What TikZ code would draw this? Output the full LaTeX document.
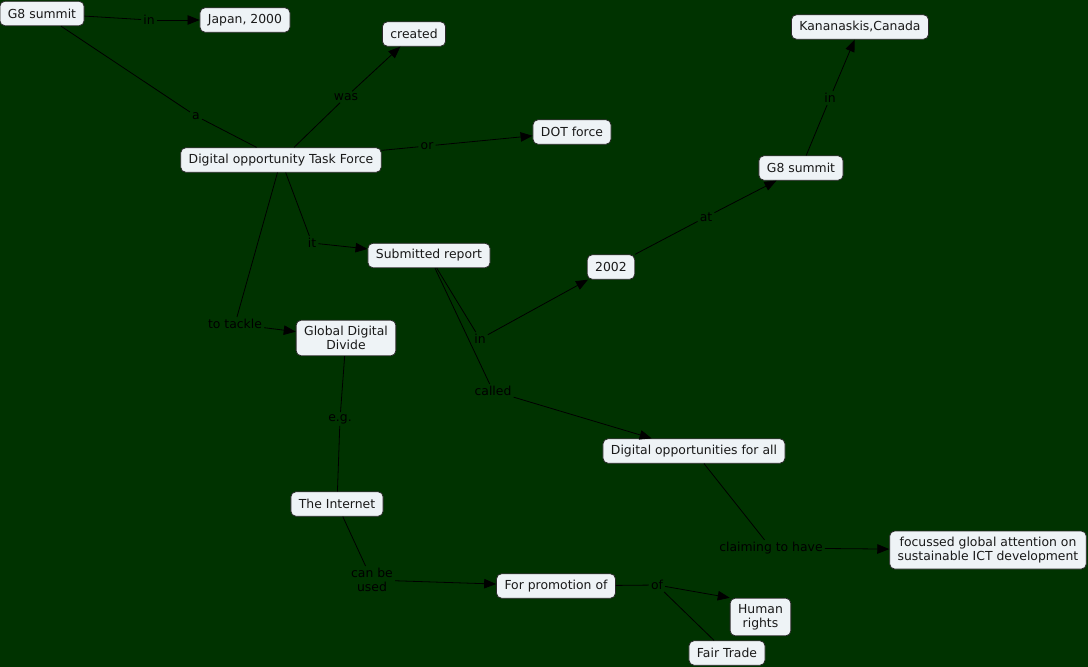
\documentclass[tikz,border=0pt]{standalone}
\usepackage{fontspec}
\setmainfont{DejaVu Sans}
\usetikzlibrary{arrows.meta}
\definecolor{bg}{RGB}{0,51,0}
\definecolor{boxfill}{RGB}{238,243,246}
\definecolor{boxline}{RGB}{40,40,40}
\begin{document}
\begin{tikzpicture}[x=1pt,y=-1pt,
  concept/.style={draw=boxline, line width=0.8pt, fill=boxfill, rounded corners=5pt,
    inner xsep=8pt, inner ysep=6pt, minimum height=24.5pt, align=center,
    font=\fontsize{12.4pt}{14pt}\selectfont, text=black!90},
  lbl/.style={inner sep=2pt, align=center, font=\fontsize{12.4pt}{14pt}\selectfont, text=black},
  conn/.style={draw=black, line width=0.8pt},
  arr/.style={conn, -{Triangle[length=12pt,width=9.5pt]}}]
\fill[bg] (0,0) rectangle (1088,667);
\useasboundingbox (0,0) rectangle (1088,667);
% concepts
\node[concept] (g8a) at (42,13.5) {G8 summit};
\node[concept] (japan) at (245,20) {Japan, 2000};
\node[concept] (created) at (414,34) {created};
\node[concept] (dotf) at (281,160) {Digital opportunity Task Force};
\node[concept] (dot) at (572,132) {DOT force};
\node[concept] (kan) at (860,27) {Kananaskis,Canada};
\node[concept] (g8b) at (801,168) {G8 summit};
\node[concept] (sr) at (429,255.5) {Submitted report};
\node[concept] (y2002) at (611,267) {2002};
\node[concept] (gdd) at (346,338) {Global Digital\\Divide};
\node[concept] (doa) at (694,451) {Digital opportunities for all};
\node[concept] (inet) at (337,504) {The Internet};
\node[concept] (foc) at (988,550) {focussed global attention on\\sustainable ICT development};
\node[concept] (prom) at (556,586) {For promotion of};
\node[concept] (hr) at (760.5,617) {Human\\rights};
\node[concept] (ft) at (727,653) {Fair Trade};
% labels
\node[lbl] (l1) at (149,20) {in};
\node[lbl] (l2) at (196,116) {a};
\node[lbl] (l3) at (346,97) {was};
\node[lbl] (l4) at (427,146) {or};
\node[lbl] (l5) at (830,98) {in};
\node[lbl] (l6) at (706,217) {at};
\node[lbl] (l7) at (312,243) {it};
\node[lbl] (l8) at (235,324) {to tackle};
\node[lbl] (l9) at (480,339) {in};
\node[lbl] (l10) at (493,391) {called};
\node[lbl] (l11) at (340,419) {e.g.};
\node[lbl] (l12) at (372,580) {can be\\used};
\node[lbl] (l13) at (771,548) {claiming to have};
\node[lbl] (l14) at (657,585) {of};
% connectors
\draw[conn] (g8a) -- (l1); \draw[arr] (l1) -- (japan);
\draw[conn] (g8a) -- (l2); \draw[conn] (l2) -- (dotf);
\draw[conn] (dotf) -- (l3); \draw[arr] (l3) -- (created);
\draw[conn] (dotf) -- (l4); \draw[arr] (l4) -- (dot);
\draw[conn] (dotf) -- (l7); \draw[arr] (l7) -- (sr);
\draw[conn] (dotf) -- (l8); \draw[arr] (l8) -- (gdd);
\draw[conn] (sr) -- (l9); \draw[arr] (l9) -- (y2002);
\draw[conn] (sr) -- (l10); \draw[arr] (l10) -- (doa);
\draw[conn] (y2002) -- (l6); \draw[arr] (l6) -- (g8b);
\draw[conn] (g8b) -- (l5); \draw[arr] (l5) -- (kan);
\draw[conn] (gdd) -- (l11); \draw[conn] (l11) -- (inet);
\draw[conn] (inet) -- (l12); \draw[arr] (l12) -- (prom);
\draw[conn] (prom) -- (l14); \draw[arr] (l14) -- (hr.north west); \draw[conn] (l14) -- (ft);
\draw[conn] (doa) -- (l13); \draw[arr] (l13) -- (foc);
\end{tikzpicture}
\end{document}
